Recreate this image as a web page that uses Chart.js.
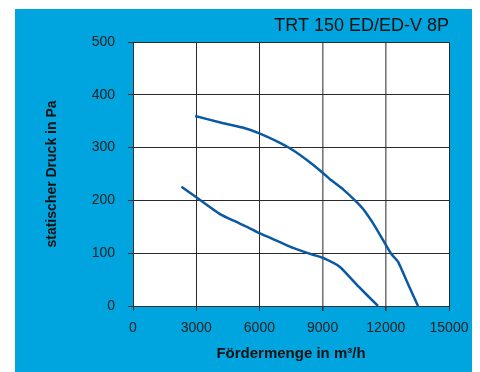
<!DOCTYPE html>
<html>
<head>
<meta charset="utf-8">
<script src="https://cdn.jsdelivr.net/npm/chart.js@4"></script>
<style>
  html,body{margin:0;padding:0;background:#fff;}
  #wrap{position:relative;width:480px;height:372px;}
</style>
</head>
<body>
<div id="wrap"><canvas id="c" width="480" height="372"></canvas></div>
<script>
// kennlinie TRT 150 ED/ED-V 8P

var chartTitle="TRT 150 ED/ED-V 8P"
var xTitle="Fördermenge in m³/h"
var yTitle="statischer Druck in Pa"

var xTicks=[0,3000,6000,9000,12000,15000]
var yTicks=[0,100,200,300,400,500]

// obere kurve
var flow1=[2950,4100,5200,6000,6977,7600,8300,9017,9350,10000,10536,10916,11500,12055,12290,12580,13050,13530]
var press1=[360,348,338,327,309,295,275,252,240,220,200,184,150,112,97,84,42,0]

// untere kurve
var flow2=[2300,3040,4130,4800,5410,6000,6977,7600,8543,9017,9824,10700,11630]
var press2=[226,205,174,161,150,138,121,110,97,91,74,37,0]

var lineColor='#0b59a3'
var FONT='"Liberation Sans", Arial, sans-serif'

function pts(xs,ys){
    var out=[]
    for(var i=0;i<xs.length;i++){
        out.push({x:xs[i],y:ys[i]})
    }
    return out
}

const bgPlugin = {
    id: 'blueBackground',
    beforeDraw: (chart) => {
      const {ctx} = chart;
      ctx.save();
      ctx.fillStyle = '#00a5df';
      ctx.fillRect(15, 9, 457, 363);
      ctx.fillStyle = '#fff';
      const a = chart.chartArea;
      ctx.fillRect(a.left, a.top, a.right - a.left, a.bottom - a.top);
      ctx.restore();
    },
    afterDraw: (chart) => {
      const {ctx} = chart;
      ctx.save();
      ctx.font = '18px ' + FONT;
      ctx.fillStyle = '#111';
      ctx.textAlign = 'right';
      ctx.textBaseline = 'alphabetic';
      ctx.fillText(chartTitle, chart.chartArea.right, 31);
      ctx.restore();
    }
  };

var config={
    type:'scatter',
    data:{
        datasets:[{
            data:pts(flow1,press1),
            showLine:true,
            borderColor:lineColor,
            borderWidth:2.5,
            pointRadius:0,
            tension:0.15,
            fill:false
        },{
            data:pts(flow2,press2),
            showLine:true,
            borderColor:lineColor,
            borderWidth:2.5,
            pointRadius:0,
            tension:0.15,
            fill:false
        }]
    },
    options:{
        responsive:false,
        animation:false,
        layout:{padding:{left:15,top:42,right:31,bottom:0}},
        plugins:{
            legend:{display:false},
            tooltip:{enabled:false}
        },
        scales:{
            x:{
                type:'linear',
                min:0,max:15000,
                afterBuildTicks:(s)=>{ s.ticks=xTicks.map(v=>({value:v})) },
                afterFit:(s)=>{ s.height=66 },
                ticks:{color:'#222',font:{family:FONT,size:14},padding:9,maxRotation:0,callback:(v)=>String(v)},
                grid:{
                    color:(c)=> (c.tick && (c.tick.value==9000 || c.tick.value==12000)) ? '#777' : '#2a2a2a',
                    lineWidth:(c)=> (c.tick && (c.tick.value==9000 || c.tick.value==12000)) ? 1.6 : 1,
                    tickColor:'#333',
                    tickLength:5
                },
                border:{color:'#333',width:1},
                title:{display:true,text:xTitle,color:'#111',font:{family:FONT,size:15,weight:'bold'},padding:{top:0,bottom:9}}
            },
            y:{
                type:'linear',
                min:0,max:500,
                afterBuildTicks:(s)=>{ s.ticks=yTicks.map(v=>({value:v})) },
                afterFit:(s)=>{ s.width=118 },
                ticks:{color:'#222',font:{family:FONT,size:14},padding:13,callback:(v)=>String(v)},
                grid:{color:'#2a2a2a',lineWidth:1,tickColor:'#333',tickLength:5},
                border:{color:'#333',width:1},
                title:{display:true,text:yTitle,color:'#111',font:{family:FONT,size:14,weight:'bold'},padding:{top:29,bottom:0}}
            }
        }
    },
    plugins:[bgPlugin]
}

var chart=new Chart(document.getElementById('c'),config)
</script>
</body>
</html>
